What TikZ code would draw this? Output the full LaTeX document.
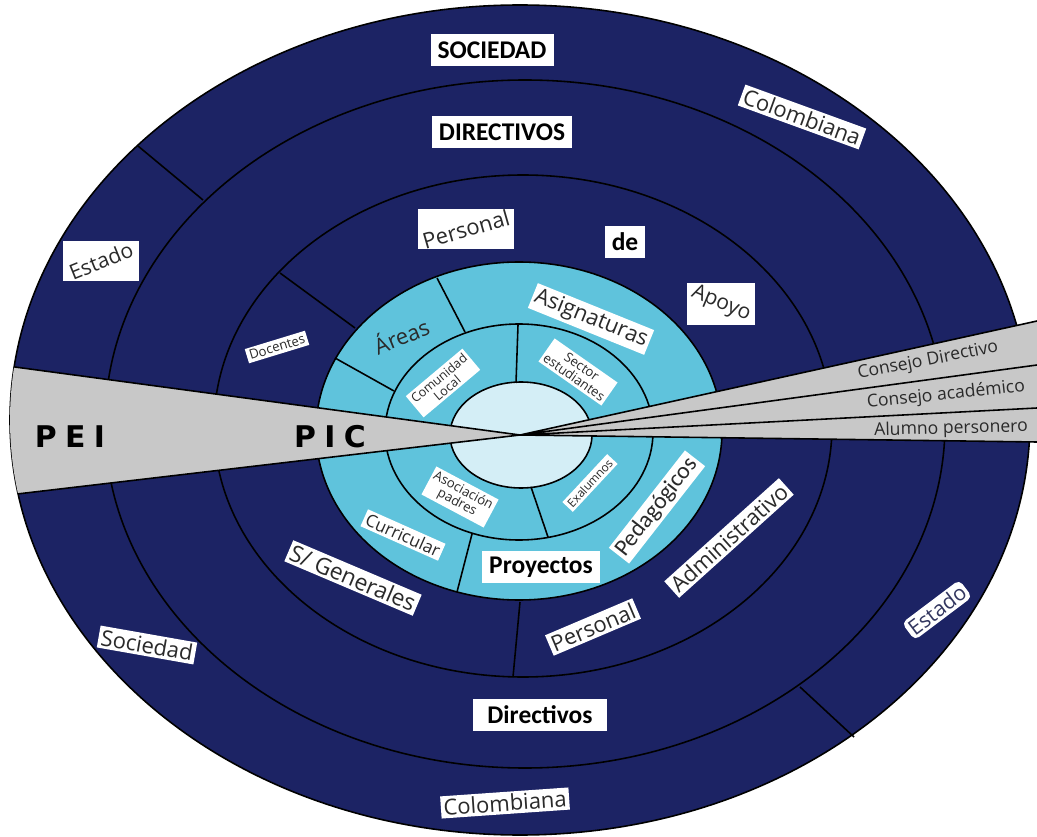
\documentclass[tikz,border=0pt]{standalone}
\usepackage{fontspec}
\usepackage{graphicx}
\usepackage{tikz}
\setmainfont{Open Sans}
\newfontfamily\calib{Carlito}
\newfontfamily\wide[LetterSpace=28]{DejaVu Sans}
\newcommand{\fsz}[1]{\fontsize{#1}{#1}\selectfont}
\definecolor{navy}{RGB}{28,35,100}
\definecolor{sky}{RGB}{95,195,220}
\definecolor{pale}{RGB}{212,238,246}
\definecolor{wedge}{RGB}{200,200,200}
\definecolor{ink}{RGB}{42,42,42}
\definecolor{navyink}{RGB}{50,54,95}

\begin{document}
\begin{tikzpicture}[
		x=0.02cm, y=0.02cm,
		ring/.style={draw=black, line width=0.9pt},
		tag/.style={fill=white, text=ink, inner sep=1.5pt},
		boldtag/.style={fill=white, text=black, inner xsep=4pt, minimum height=0.64cm, font=\calib\bfseries\fsz{14.5}},
		council/.style={text=ink, inner sep=0pt, font=\fsz{10}}
	]
  \useasboundingbox (0,0) rectangle (1037,-837);
  \coordinate (o) at (520,-435);
  % rings
  \fill[navy] (520,-420) ellipse [x radius=510, y radius=415];
  \draw[ring] (520,-420) ellipse [x radius=510, y radius=415];
  \draw[ring] (525,-424) ellipse [x radius=420, y radius=344];
  \draw[ring] (523,-426) ellipse [x radius=309, y radius=251];
  \draw[ring, fill=sky] (519,-431) ellipse [x radius=203, y radius=169];
  \draw[ring] (519,-432) ellipse [x radius=134, y radius=108];
  \draw[ring, fill=pale] (521,-435) ellipse [x radius=71, y radius=53];
  % dividers
  \draw[ring] (138,-146) -- (203,-200);
  \draw[ring] (800,-687) -- (854,-737);
  \draw[ring] (280,-273) -- (355,-328);
  \draw[ring] (520,-602) -- (513,-677);
  \draw[ring] (437,-278) -- (465,-332);
  \draw[ring] (335,-358) -- (394,-391);
  \draw[ring] (472,-534) -- (457,-592);
  \draw[ring] (518,-325) -- (516,-383);
  \draw[ring] (531,-487) -- (548,-537);
  % PEI wedge
  \begin{scope}
    \clip (520,-420) ellipse [x radius=510, y radius=415];
    \fill[wedge] (o) -- (0,-365) -- (0,-496) -- cycle;
    \draw[ring] (0,-365) -- (o) -- (0,-496);
  \end{scope}
  % council wedges
  \fill[wedge] (o) -- (1037,-321) -- (1037,-442) -- cycle;
  \draw[ring] (o) -- (1037,-321) (o) -- (1037,-365) (o) -- (1037,-408) (o) -- (1037,-442);
  % labels
  \node (sociedad) [boldtag] at (492,-50) {SOCIEDAD};
  \node (directivos) [boldtag] at (502,-132) {DIRECTIVOS};
  \node (de) [boldtag] at (625,-242) {de};
  \node (proyectos) [boldtag] at (541,-567) {Proyectos};
  \node (directivosb) [boldtag, minimum width=2.68cm] at (540,-715) {Directivos};
  \node (colombiana) [tag, rotate=-20, font=\fsz{12.5}] at (802,-117) {Colombiana};
  \node (estado) [tag, minimum width=1.54cm, minimum height=0.74cm, inner sep=0pt, font=\fsz{12}] at (101,-261) {\rotatebox{22}{Estado}};
  \node (personal) [tag, minimum width=1.94cm, minimum height=0.76cm, inner sep=0pt, font=\fsz{12.5}] at (466,-229) {\rotatebox{16}{Personal}};
  \node (apoyo) [tag, minimum width=1.36cm, minimum height=0.84cm, inner sep=0pt, font=\fsz{12}] at (721,-304) {\rotatebox{-23}{Apoyo}};
  \node (docentes) [tag, rotate=17, font=\fsz{7.5}] at (277,-347) {Docentes};
  \node (areas) [text=ink, rotate=22, font=\fsz{12.5}] at (401,-335) {Áreas};
  \node (asignaturas) [tag, rotate=-22, font=\fsz{12.5}] at (591,-319) {Asignaturas};
  \node (comunidad) [tag, rotate=40, align=center, font=\fsz{7.2}] at (443,-383) {Comunidad\\Local};
  \node (sector) [tag, rotate=-35, align=center, font=\fsz{7.5}] at (578,-372) {Sector\\estudiantes};
  \node (pei) [text=black, font=\wide\bfseries\fsz{17}] at (70,-437) {PEI};
  \node (pic) [text=black, font=\wide\bfseries\fsz{17}] at (330,-437) {PIC};
  \node (cdirectivo) [council, rotate=11] at (928,-361) {Consejo Directivo};
  \node (cacademico) [council, rotate=6] at (946,-395) {Consejo académico};
  \node (alumno) [council, rotate=1.5] at (951,-429) {Alumno personero};
  \node (asociacion) [tag, rotate=-28, align=center, font=\fsz{7.5}] at (460,-497) {Asociación\\padres};
  \node (exalumnos) [tag, rotate=47, font=\fsz{6.7}] at (590,-483) {Exalumnos};
  \node (curricular) [tag, rotate=-24, font=\fsz{9.8}] at (403,-535) {Curricular};
  \node (pedagogicos) [tag, rotate=52, font=\calib\fsz{13.4}] at (657,-507) {Pedagógicos};
  \node (administrativo) [tag, rotate=42, font=\fsz{12.5}] at (729,-538) {Administrativo};
  \node (generales) [tag, rotate=-23, font=\fsz{13}] at (353,-578) {S/ Generales};
  \node (personalb) [tag, rotate=23, font=\fsz{12.5}] at (593,-627) {Personal};
  \node (estadob) [tag, rotate=37, text=navyink, rounded corners=3pt, font=\fsz{12}] at (937,-610) {Estado};
  \node (sociedadb) [tag, rotate=-10, font=\fsz{12.5}] at (147,-645) {Sociedad};
  \node (colombianab) [tag, rotate=4, font=\fsz{12.5}] at (505,-803) {Colombiana};
\end{tikzpicture}
\end{document}
